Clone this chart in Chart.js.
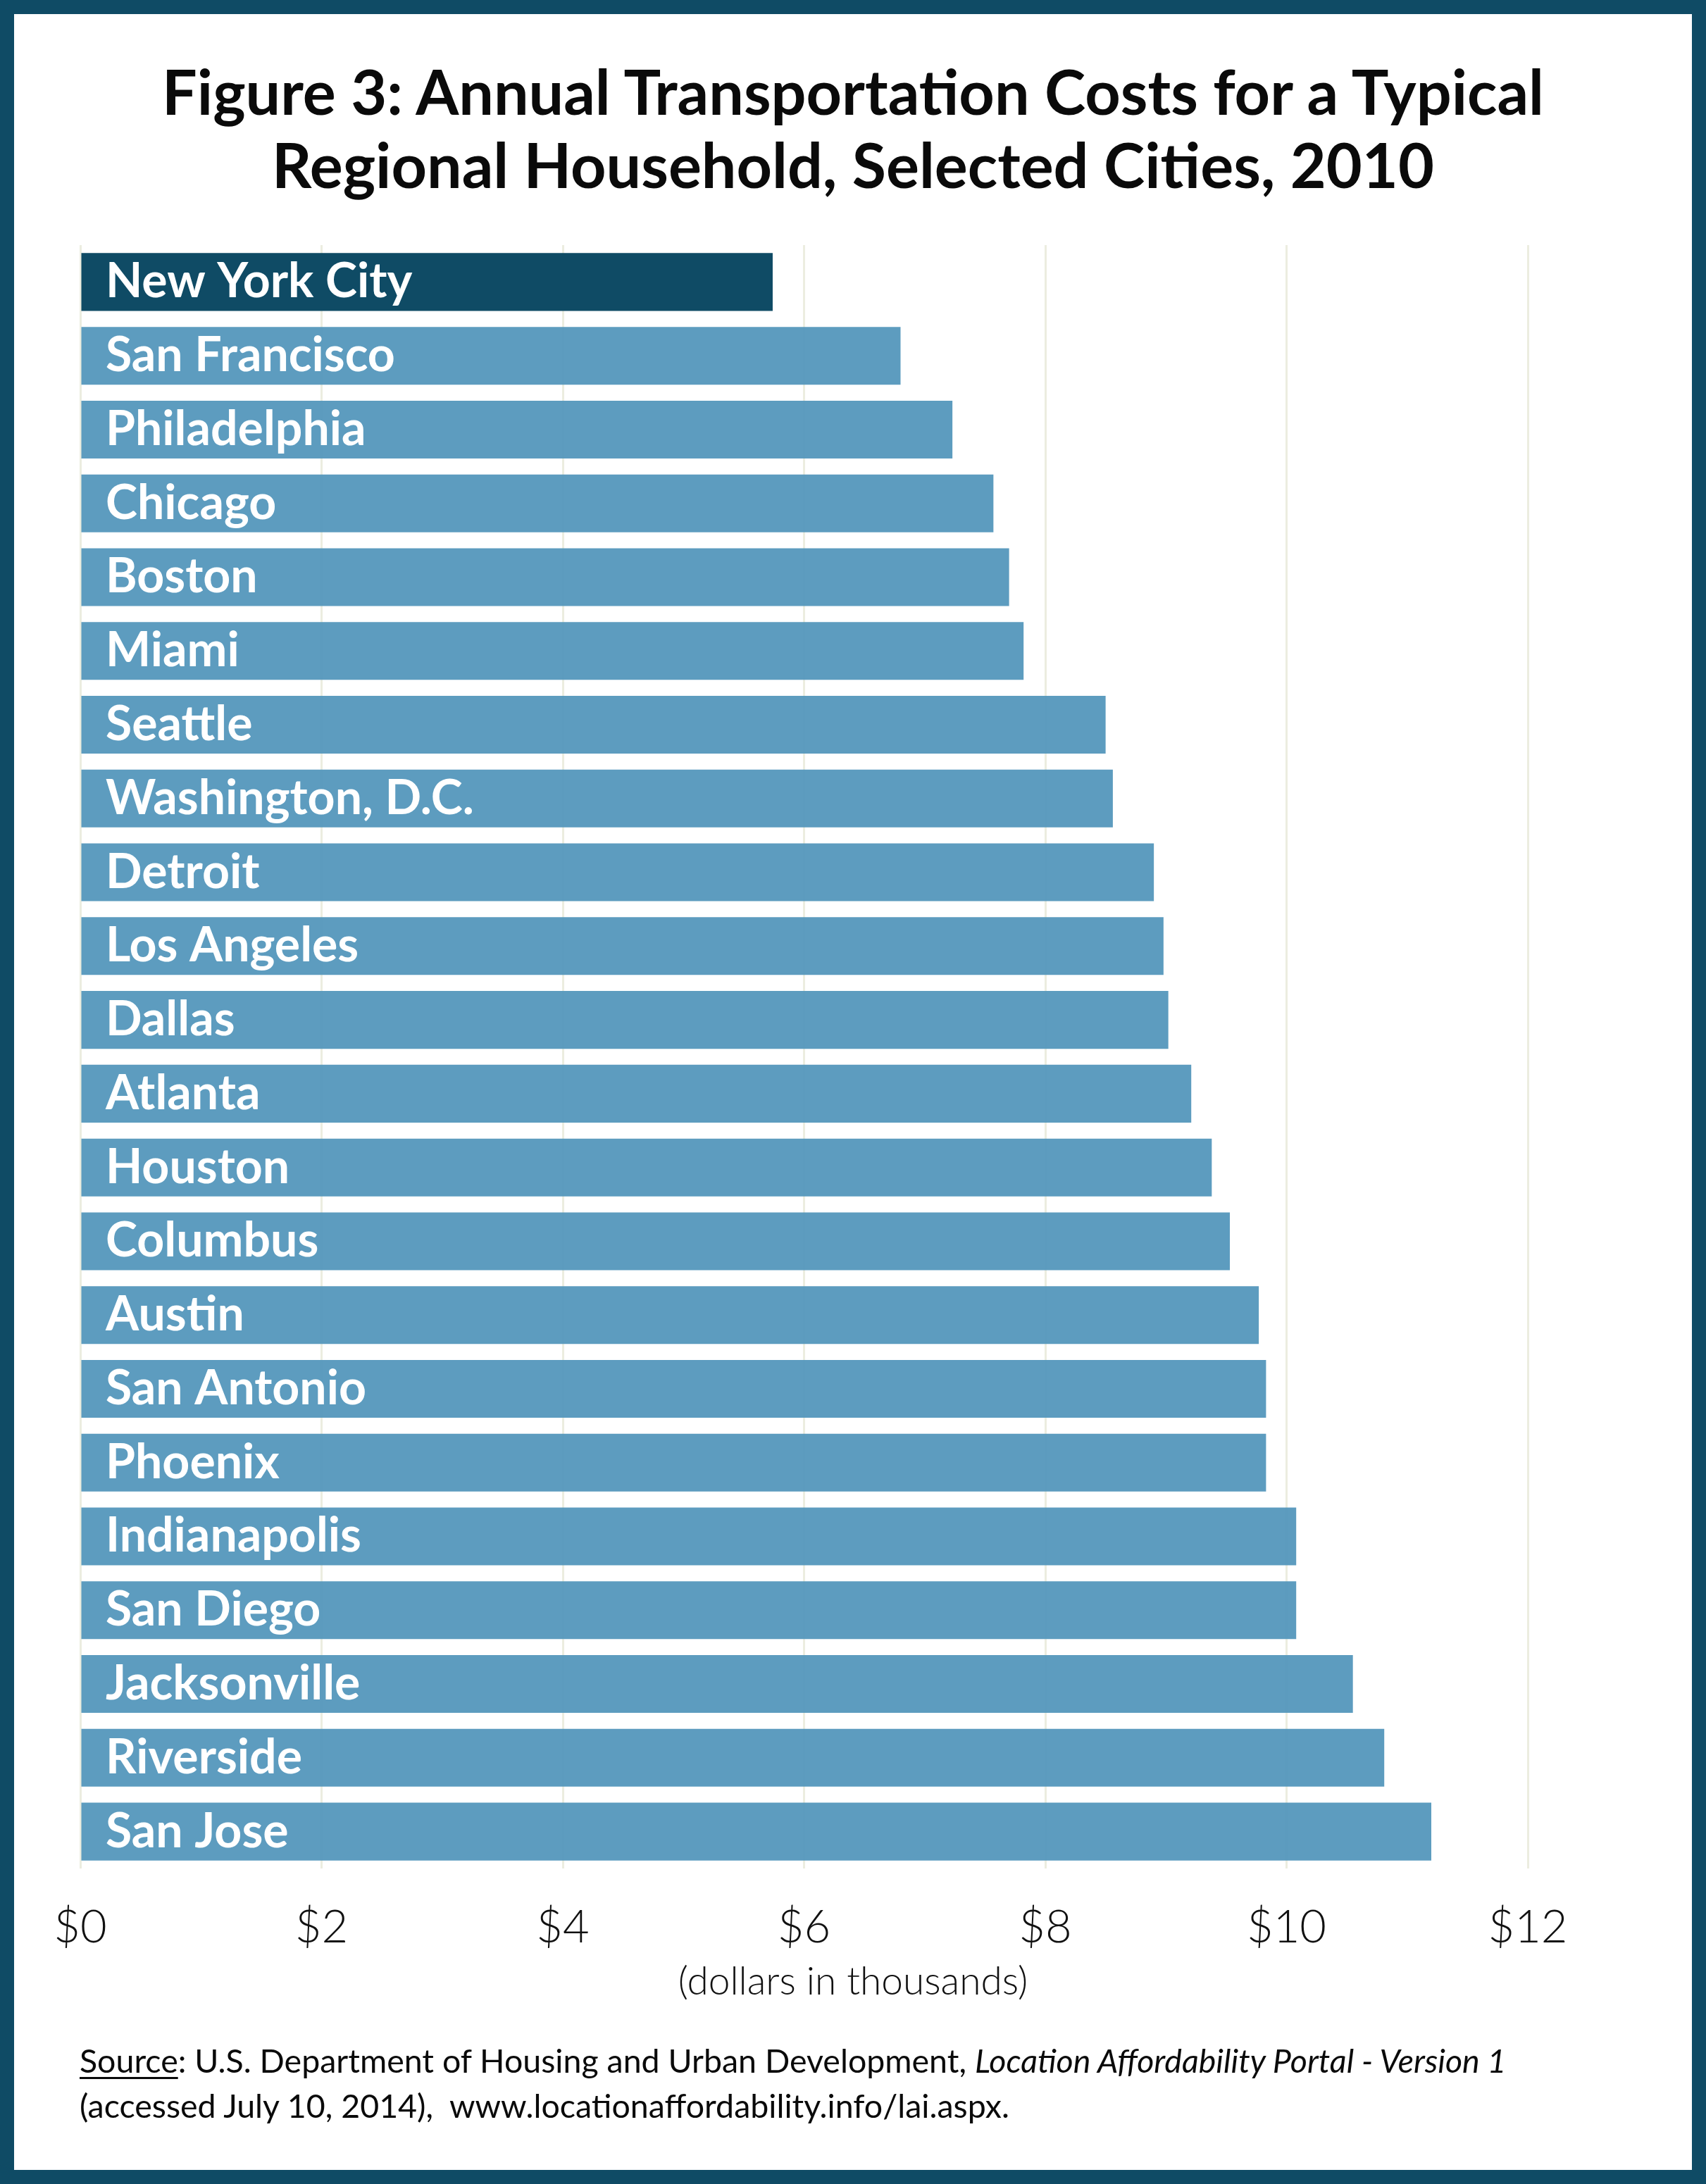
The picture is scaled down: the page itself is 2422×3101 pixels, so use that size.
<!DOCTYPE html>
<html>
<head>
<meta charset="utf-8">
<title>Annual Transportation Costs for a Typical Regional Household</title>
<script src="https://cdn.jsdelivr.net/npm/chart.js@4.4.1/dist/chart.umd.min.js"></script>
<style>
  html, body { margin: 0; padding: 0; background: #ffffff; }
  .page {
    position: relative;
    width: 2422px;
    height: 3101px;
    box-sizing: border-box;
    border: 20px solid #0f4b65;
    background: #ffffff;
    overflow: hidden;
  }
  .chart-wrap { position: absolute; left: -20px; top: -20px; width: 2422px; height: 3101px; }
  .title {
    position: absolute;
    left: -20px;
    width: 2422px;
    top: 57px;
    text-align: center;
    font-family: 'Lato', sans-serif;
    font-weight: 700;
    font-size: 88px;
    line-height: 104px;
    color: #0a0a0a;
  }
  .axis-note {
    position: absolute;
    left: -20px;
    width: 2422px;
    top: 2763px;
    text-align: center;
    font-family: 'Lato', sans-serif;
    font-weight: 300;
    font-size: 55px;
    line-height: 57px;
    color: #111111;
  }
  .source {
    position: absolute;
    left: 93px;
    top: 2873px;
    font-family: 'Lato', sans-serif;
    font-weight: 400;
    font-size: 46.5px;
    line-height: 64px;
    color: #0a0a0a;
    white-space: nowrap;
  }
  .source u { text-underline-offset: 6px; text-decoration-thickness: 3px; }
</style>
</head>
<body>
<div class="page">
  <div class="chart-wrap"><canvas id="costChart" width="2422" height="3101"></canvas></div>
  <div class="title">Figure 3: Annual Transportation Costs for a Typical<br>Regional Household, Selected Cities, 2010</div>
  <div class="axis-note">(dollars in thousands)</div>
  <div class="source">
    <u>Source</u>: U.S. Department of Housing and Urban Development, <i>Location Affordability Portal - Version 1</i><br>
    (accessed July 10, 2014),&nbsp; www.locationaffordability.info/lai.aspx.
  </div>
</div>

<script>
// Chart data (annual transportation cost, thousands of dollars)
const cities = [
  'New York City', 'San Francisco', 'Philadelphia', 'Chicago', 'Boston', 'Miami',
  'Seattle', 'Washington, D.C.', 'Detroit', 'Los Angeles', 'Dallas', 'Atlanta',
  'Houston', 'Columbus', 'Austin', 'San Antonio', 'Phoenix', 'Indianapolis',
  'San Diego', 'Jacksonville', 'Riverside', 'San Jose'
];
const costs = [
  5.74, 6.80, 7.23, 7.57, 7.70, 7.82,
  8.50, 8.56, 8.90, 8.98, 9.02, 9.21,
  9.38, 9.53, 9.77, 9.83, 9.83, 10.08,
  10.08, 10.55, 10.81, 11.20
];
const highlightCity = 'New York City';
const xTicks = [0, 2, 4, 6, 8, 10, 12];

const DARK_BLUE = '#0f4b65';
const BAR_BLUE = 'rgba(84, 151, 188, 0.95)';
const GRID_COLOR = '#ecede0';

document.addEventListener('DOMContentLoaded', function() {
  // make sure canvas text gets Lato, not the fallback
  Promise.all([
    document.fonts.load('700 68px Lato'),
    document.fonts.load('300 65px Lato')
  ]).catch(() => {}).then(drawChart);
});

function drawChart() {
  const ctx = document.getElementById('costChart').getContext('2d');

  new Chart(ctx, {
    type: 'bar',
    data: {
      labels: cities,
      datasets: [{
        data: costs,
        backgroundColor: cities.map(c => c === highlightCity ? DARK_BLUE : BAR_BLUE),
        borderWidth: 0,
        barPercentage: 0.783,
        categoryPercentage: 1.0
      }]
    },
    options: {
      indexAxis: 'y',
      responsive: false,
      animation: false,
      layout: {
        padding: { left: 114, top: 348, right: 253, bottom: 0 }
      },
      plugins: {
        legend: { display: false },
        tooltip: { enabled: false },
        title: { display: false }
      },
      scales: {
        x: {
          position: 'bottom',
          min: 0,
          max: 12,
          afterBuildTicks: function(scale) {
            scale.ticks = xTicks.map(v => ({ value: v }));
          },
          afterFit: function(scale) {
            // fixed axis band so the plot ends where the reference does
            scale.height = 448;
          },
          grid: {
            color: GRID_COLOR,
            lineWidth: 3,
            drawTicks: false
          },
          border: { display: false },
          ticks: {
            padding: 52,
            color: '#111111',
            font: { family: 'Lato', weight: 300, size: 65, lineHeight: 1 },
            callback: function(value) {
              return '$' + value;
            }
          }
        },
        y: {
          afterFit: function(scale) {
            scale.width = 0;
          },
          grid: { display: false, drawTicks: false },
          border: { display: false },
          ticks: {
            // tick layer above the bars so the city names sit on top of them
            z: 1,
            mirror: true,
            padding: 36,
            autoSkip: false,
            color: '#ffffff',
            font: { family: 'Lato', weight: 700, size: 68 }
          }
        }
      }
    }
  });
}
</script>
</body>
</html>
